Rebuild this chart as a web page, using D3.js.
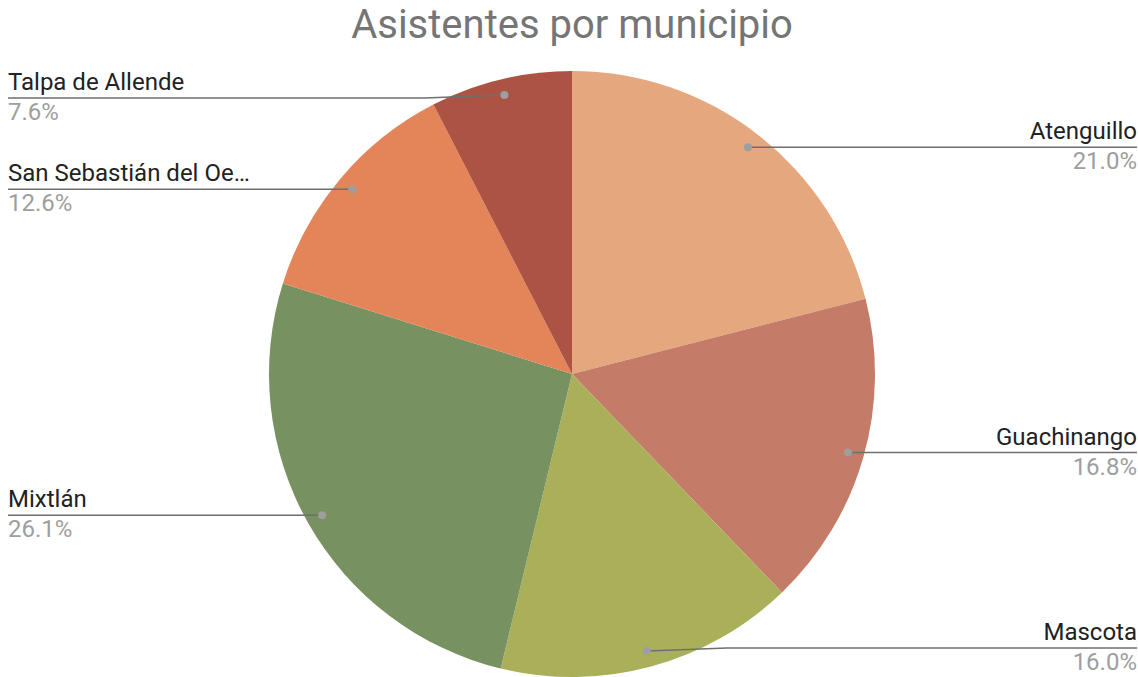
<!DOCTYPE html>
<html>
<head>
<meta charset="utf-8">
<script src="https://cdn.jsdelivr.net/npm/d3@7"></script>
<style>
  body { margin: 0; background: #fff; }
  text { font-family: Roboto, "Noto Sans", sans-serif; }
</style>
</head>
<body>
<div id="chart"></div>
<script>
// datos: asistentes por municipio
var municipios = ["Atenguillo", "Guachinango", "Mascota", "Mixtlán", "San Sebastián del Oeste", "Talpa de Allende"];
var asistentes = [25, 20, 19, 31, 15, 9];
var etiquetas = ["Atenguillo", "Guachinango", "Mascota", "Mixtlán", "San Sebastián del Oe…", "Talpa de Allende"];
var colores = ["#e5a77e", "#c47c68", "#aaaf5a", "#779161", "#e38558", "#ad5344"];

var width = 1138, height = 677;
var cx = 572, cy = 374, radius = 303;

var svg = d3.select("#chart").append("svg")
    .attr("width", width)
    .attr("height", height);

svg.append("text")
    .attr("x", cx)
    .attr("y", 38)
    .attr("text-anchor", "middle")
    .style("font-size", "40px")
    .style("fill", "#757575")
    .text("Asistentes por municipio");

var data = municipios.map(function(m, i) {
  return {name: m, label: etiquetas[i], value: asistentes[i], color: colores[i]};
});
var total = d3.sum(asistentes);
var fmt = d3.format(".1%");

var pie = d3.pie()
  .sort(null)
  .value(function(d) { return d.value; });

var arc = d3.arc()
  .innerRadius(0)
  .outerRadius(radius);

var dotArc = d3.arc()
  .innerRadius(287)
  .outerRadius(287);

var g = svg.append("g")
    .attr("transform", "translate(" + cx + "," + cy + ")");

var arcs = pie(data);

g.selectAll("path")
    .data(arcs)
  .enter().append("path")
    .attr("d", arc)
    .attr("fill", function(d) { return d.data.color; });

// etiquetas con lineas guia
var labels = svg.append("g");

arcs.forEach(function(d) {
  var c = dotArc.centroid(d);
  var dx = cx + c[0], dy = cy + c[1];
  var mid = (d.startAngle + d.endAngle) / 2;
  var right = mid < Math.PI;
  var ly = Math.max(98, Math.min(648, dy)); // evitar que se salgan del borde
  var ex = right ? width - 1 : 8;
  var elbow = right ? dx + 80 : dx - 80;
  var pts = ly === dy ? [[dx, dy], [ex, ly]] : [[dx, dy], [elbow, ly], [ex, ly]];

  labels.append("path")
      .attr("d", d3.line()(pts))
      .attr("fill", "none")
      .attr("stroke", "#6f6f6f")
      .attr("stroke-width", 1.6);

  labels.append("circle")
      .attr("cx", dx)
      .attr("cy", dy)
      .attr("r", 4)
      .attr("fill", "#9e9e9e");

  var tx = right ? width - 1 : 8;
  var anchor = right ? "end" : "start";

  labels.append("text")
      .attr("x", tx)
      .attr("y", ly - 8)
      .attr("text-anchor", anchor)
      .style("font-size", "24px")
      .style("fill", "#222")
      .text(d.data.label);

  labels.append("text")
      .attr("x", tx)
      .attr("y", ly + 22)
      .attr("text-anchor", anchor)
      .style("font-size", "24px")
      .style("fill", "#9e9e9e")
      .text(fmt(d.data.value / total));
});
</script>
</body>
</html>
